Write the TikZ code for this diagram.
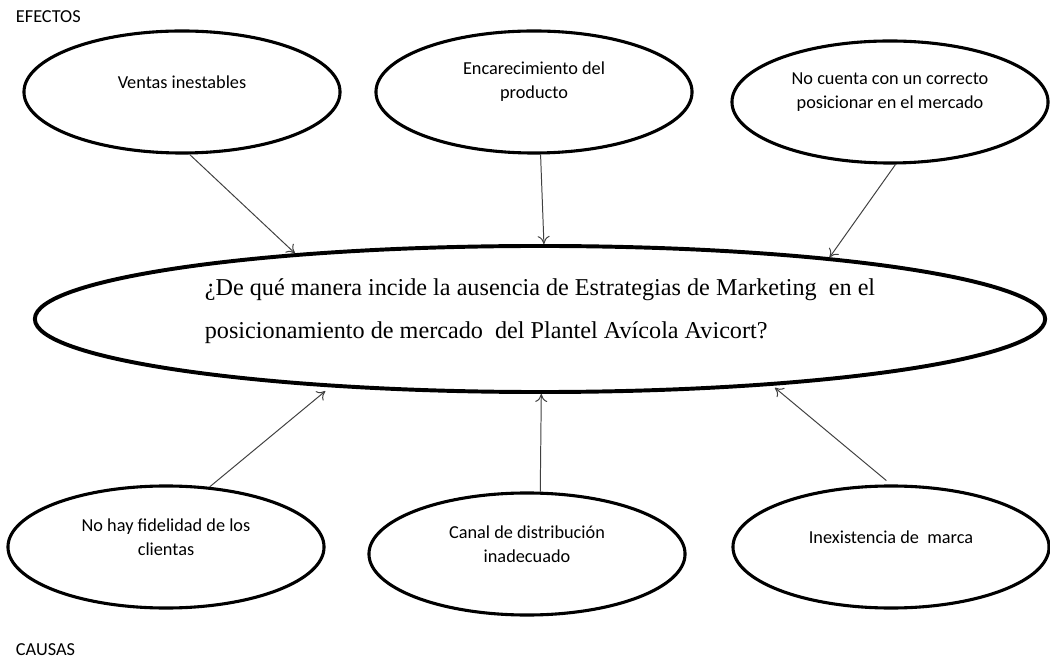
\documentclass[tikz,border=0pt]{standalone}
\usepackage{fontspec}
\setmainfont{Liberation Serif}
\newfontfamily\calibri{Carlito}
\usetikzlibrary{shapes.geometric,arrows.meta}

\begin{document}
\begin{tikzpicture}[x=0.025cm,y=-0.025cm,
        >={To[length=2mm,width=3mm]},
        elipse/.style={ellipse, draw, line width=2.2pt, minimum width=7.9cm, minimum height=3.05cm, inner sep=0pt},
        etiq/.style={font=\calibri\fontsize{13}{17}\selectfont, align=center, yshift=2.5mm},
        flecha/.style={->, draw=black!75, line width=0.7pt}]
        \useasboundingbox (0,0) rectangle (1050,661);

        % Titulos
        \node[anchor=west, font=\calibri\fontsize{13}{15}\selectfont] (efectos) at (11,17) {EFECTOS};
        \node[anchor=west, font=\calibri\fontsize{13}{15}\selectfont] (causas) at (11,650) {CAUSAS};

        % Problema central
        \node[ellipse, draw, line width=2.8pt, minimum width=25.25cm, minimum height=3.65cm, inner sep=0pt,
              label={[font=\fontsize{17.2}{30.5}\selectfont, align=left, yshift=2mm]center:{¿De qué manera incide la ausencia de Estrategias de Marketing~ en el\\posicionamiento de mercado~ del Plantel Avícola Avicort?}}]
              (q) at (540,319) {};

        % Efectos
        \node[elipse, label={[etiq]center:Ventas inestables}] (e1) at (182,92) {};
        \node[elipse, label={[etiq]center:Encarecimiento del\\producto}] (e2) at (534,92) {};
        \node[elipse, label={[etiq]center:No cuenta con un correcto\\posicionar en el mercado}] (e3) at (890,102) {};

        % Causas
        \node[elipse, label={[etiq]center:No hay fidelidad de los\\clientas}] (c1) at (166,547) {};
        \node[elipse, label={[etiq]center:Canal de distribución\\inadecuado}] (c2) at (527,554) {};
        \node[elipse, label={[etiq]center:Inexistencia de~ marca}] (c3) at (891,547) {};

        % Flechas
        \draw[flecha] (e1.-83) -- (q.165.5);
        \draw[flecha] (e2.-84) -- (q.87);
        \draw[flecha] (e3.-85) -- (q.12.4);
        \draw[flecha, shorten >=1.5mm] (c1.54) -- (q.-162.6);
        \draw[flecha] (c2.78) -- (q.-89);
        \draw[flecha, shorten <=1.5mm, shorten >=0.8mm] (c3.north) -- (q.-16.6);
    \end{tikzpicture}
\end{document}
